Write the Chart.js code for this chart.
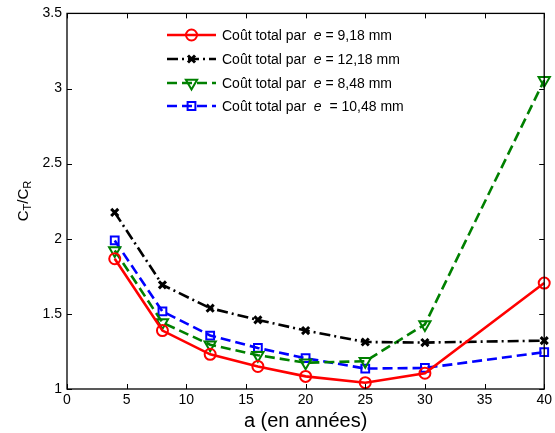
<!DOCTYPE html>
<html>
<head>
<meta charset="utf-8">
<script src="https://cdn.jsdelivr.net/npm/chart.js@4/dist/chart.umd.min.js"></script>
<style>
html,body{margin:0;padding:0;background:#fff;}
#wrap{width:555px;height:433px;position:relative;}
</style>
</head>
<body>
<div id="wrap"><canvas id="c" width="555" height="433"></canvas></div>
<script>
// ---- data ----
const years = [4, 8, 12, 16, 20, 25, 30, 40];
const cost_e918  = [1.867, 1.389, 1.231, 1.150, 1.084, 1.042, 1.105, 1.705];
const cost_e1218 = [2.175, 1.693, 1.538, 1.460, 1.389, 1.313, 1.309, 1.322];
const cost_e848  = [1.922, 1.442, 1.295, 1.225, 1.175, 1.185, 1.430, 3.055];
const cost_e1048 = [1.989, 1.516, 1.356, 1.273, 1.205, 1.136, 1.140, 1.245];
const xTicks = [0, 5, 10, 15, 20, 25, 30, 35, 40];
const yTicks = [1, 1.5, 2, 2.5, 3, 3.5];
const legendPrefix = ["Coût total par  ", "Coût total par  ", "Coût total par  ", "Coût total par  "];
const legendVar = ["e", "e", "e", "e"];
const legendSuffix = [" = 9,18 mm", " = 12,18 mm", " = 8,48 mm", "  = 10,48 mm"];
const xTitle = "a (en années)";

const FONT = "'Liberation Sans', Arial, Helvetica, sans-serif";

function pts(vals){ return years.map((x,i)=>({x:x,y:vals[i]})); }

const series = [
  {vals:cost_e918,  color:'#ff0000', dash:[],          style:'circle',   r:5.5, lw:2.6},
  {vals:cost_e1218, color:'#000000', dash:[11,4,2,4],  style:'crossRot', r:5,   lw:2.6},
  {vals:cost_e848,  color:'#008000', dash:[10,5],      style:'triangle', r:6.5, lw:2.6, rot:180},
  {vals:cost_e1048, color:'#0000ff', dash:[10,5],      style:'rect',     r:5.5, lw:2.6},
];

const datasets = series.map((s,i)=>({
  label: legendPrefix[i]+legendVar[i]+legendSuffix[i],
  data: pts(s.vals),
  borderColor: s.color,
  backgroundColor: 'rgba(0,0,0,0)',
  borderWidth: s.lw,
  borderDash: s.dash,
  pointStyle: s.style,
  pointRadius: s.r,
  pointRotation: s.rot||0,
  pointBorderWidth: s.style==='crossRot'?3:2,
  pointBorderColor: s.color,
  pointBackgroundColor: 'rgba(0,0,0,0)',
  tension: 0,
  clip: false
}));

const framePlugin = {
  id:'frame',
  afterDraw(chart){
    const ctx = chart.ctx, a = chart.chartArea;
    const xs = chart.scales.x, ys = chart.scales.y;
    ctx.save();
    ctx.strokeStyle = '#000';
    ctx.lineWidth = 1.3;
    ctx.setLineDash([]);
    ctx.strokeRect(a.left, a.top, a.right-a.left, a.bottom-a.top);
    const tl = 5;
    ctx.beginPath();
    xTicks.forEach(v=>{
      const p = Math.round(xs.getPixelForValue(v))+0.5;
      ctx.moveTo(p, a.bottom); ctx.lineTo(p, a.bottom-tl);
      ctx.moveTo(p, a.top); ctx.lineTo(p, a.top+tl);
    });
    yTicks.forEach(v=>{
      const p = Math.round(ys.getPixelForValue(v))+0.5;
      ctx.moveTo(a.left, p); ctx.lineTo(a.left+tl, p);
      ctx.moveTo(a.right, p); ctx.lineTo(a.right-tl, p);
    });
    ctx.lineWidth = 1;
    ctx.stroke();

    // x title
    ctx.fillStyle = '#000';
    ctx.font = "20px " + FONT;
    ctx.textAlign = 'center';
    ctx.textBaseline = 'middle';
    ctx.fillText(xTitle, (a.left+a.right)/2, 421);

    // y title C_T/C_R rotated
    ctx.save();
    ctx.translate(24, 201);
    ctx.rotate(-Math.PI/2);
    const big = "15px " + FONT, small = "11px " + FONT;
    const parts = [["C",big,0],["T",small,4],["/C",big,0],["R",small,4]];
    let total = 0;
    parts.forEach(p=>{ctx.font=p[1]; total+=ctx.measureText(p[0]).width;});
    let x = -total/2;
    ctx.textAlign='left';
    ctx.textBaseline='middle';
    parts.forEach(p=>{ctx.font=p[1]; ctx.fillText(p[0], x, p[2]); x+=ctx.measureText(p[0]).width;});
    ctx.restore();

    // legend
    const rowsY = [35, 59, 83, 106];
    chart.data.datasets.forEach((ds,i)=>{
      const y = rowsY[i];
      const s = series[i];
      ctx.save();
      ctx.strokeStyle = s.color;
      ctx.fillStyle = 'rgba(0,0,0,0)';
      ctx.lineWidth = s.lw;
      ctx.setLineDash(s.dash);
      ctx.beginPath();
      ctx.moveTo(167, y); ctx.lineTo(216, y);
      ctx.stroke();
      ctx.setLineDash([]);
      ctx.lineWidth = ds.pointBorderWidth;
      Chart.helpers.drawPoint(ctx, {
        pointStyle: s.style, rotation: s.rot||0, radius: s.r,
        borderWidth: ds.pointBorderWidth
      }, 191.5, y);
      ctx.restore();
      ctx.fillStyle = '#000';
      ctx.textAlign = 'left';
      ctx.textBaseline = 'middle';
      ctx.font = "14px " + FONT;
      let tx = 222;
      ctx.fillText(legendPrefix[i], tx, y+1);
      tx += ctx.measureText(legendPrefix[i]).width;
      ctx.font = "italic 14px " + FONT;
      ctx.fillText(legendVar[i], tx, y+1);
      tx += ctx.measureText(legendVar[i]).width;
      ctx.font = "14px " + FONT;
      ctx.fillText(legendSuffix[i], tx, y+1);
    });
    ctx.restore();
  }
};

const chart = new Chart(document.getElementById('c'), {
  type: 'line',
  data: { datasets: datasets },
  options: {
    responsive: false,
    animation: false,
    devicePixelRatio: 1,
    layout: { padding: { top: 13, right: 10, left: 0, bottom: 0 } },
    plugins: { legend: { display: false }, tooltip: { enabled: false } },
    scales: {
      x: {
        type: 'linear', min: 0, max: 40,
        afterBuildTicks(s){ s.ticks = xTicks.map(v=>({value:v})); },
        afterFit(s){ s.height = 44; },
        grid: { display: false, drawTicks: false },
        border: { display: false },
        ticks: { color:'#000', padding: 3, maxRotation: 0, font: { size: 14, family: FONT },
                 callback: v => String(v) }
      },
      y: {
        type: 'linear', min: 1, max: 3.5,
        afterBuildTicks(s){ s.ticks = yTicks.map(v=>({value:v})); },
        afterFit(s){ s.width = 67; },
        grid: { display: false, drawTicks: false },
        border: { display: false },
        ticks: { color:'#000', padding: 5, font: { size: 14, family: FONT },
                 callback: v => String(v) }
      }
    }
  },
  plugins: [framePlugin]
});
</script>
</body>
</html>
